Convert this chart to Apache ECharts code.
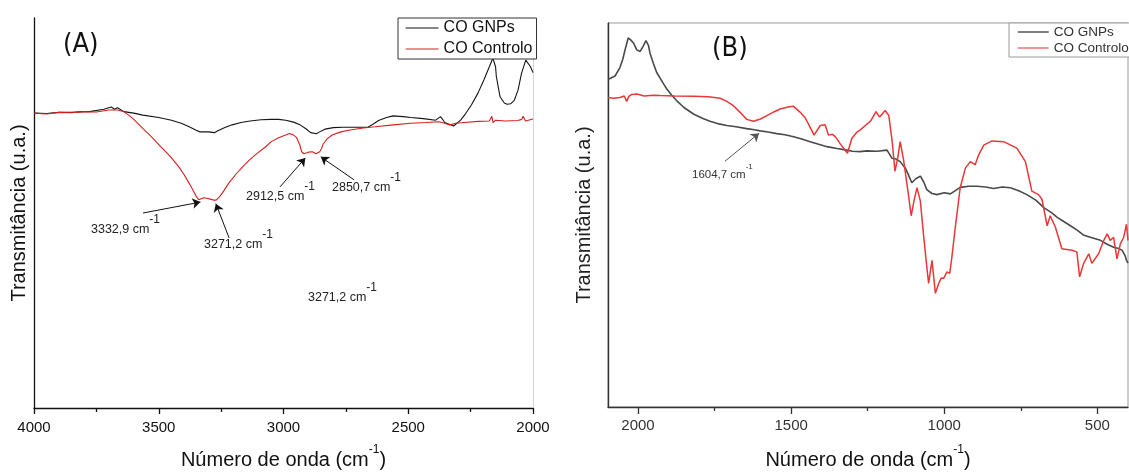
<!DOCTYPE html>
<html>
<head>
<meta charset="utf-8">
<script src="https://cdn.jsdelivr.net/npm/echarts@6/dist/echarts.min.js"></script>
<style>
  html, body { margin: 0; padding: 0; background: #fff; }
  #chart { width: 1129px; height: 475px; }
</style>
</head>
<body>
<div id="chart"></div>
<script>
// ---- Panel A: 4000-2000 cm-1 ----
const gnpWnA = [4000, 3950, 3900, 3850, 3800, 3778, 3720, 3690, 3678, 3665, 3640, 3600, 3564, 3500, 3449, 3410, 3378, 3350, 3335, 3300, 3277, 3263, 3235, 3206, 3170, 3134, 3090, 3049, 3020, 2991, 2960, 2934, 2910, 2891, 2869, 2855, 2834, 2800, 2762, 2700, 2662, 2640, 2619, 2590, 2562, 2520, 2490, 2440, 2390, 2371, 2360, 2354, 2318, 2290, 2270, 2247, 2220, 2197, 2175, 2161, 2150, 2147, 2132, 2115, 2104, 2090, 2075, 2060, 2046, 2029, 2010, 2000];
const gnpA = [75.6, 75.5, 75.8, 75.8, 76.0, 76.0, 76.6, 77.2, 76.6, 77.0, 76.0, 75.6, 75.1, 74.5, 73.8, 73.0, 72.1, 71.2, 70.8, 70.8, 70.6, 71.1, 71.9, 72.6, 73.2, 73.6, 73.9, 74.0, 74.0, 73.8, 73.3, 72.6, 71.6, 70.6, 70.3, 70.8, 71.5, 71.9, 72.0, 72.0, 72.0, 72.8, 73.7, 74.4, 74.9, 74.7, 74.5, 74.2, 73.8, 74.7, 73.8, 73.2, 72.3, 73.8, 75.5, 77.7, 80.8, 84.1, 87.5, 89.7, 87.5, 85.0, 79.8, 78.2, 77.9, 78.0, 78.9, 81.5, 85.8, 89.2, 87.5, 86.0];

const ctrlWnA = [4000, 3950, 3900, 3850, 3800, 3750, 3700, 3664, 3640, 3621, 3600, 3564, 3530, 3492, 3455, 3420, 3400, 3378, 3360, 3349, 3340, 3332, 3320, 3306, 3290, 3280, 3270, 3256, 3240, 3220, 3190, 3163, 3135, 3106, 3075, 3049, 3020, 2991, 2977, 2962, 2948, 2935, 2927, 2918, 2912, 2900, 2884, 2870, 2855, 2848, 2841, 2825, 2805, 2770, 2733, 2680, 2633, 2560, 2490, 2430, 2376, 2355, 2333, 2310, 2275, 2220, 2175, 2165, 2160, 2150, 2110, 2061, 2045, 2040, 2030, 2000];
const ctrlA = [75.6, 75.4, 75.8, 75.7, 76.0, 75.9, 76.4, 76.4, 76.0, 75.1, 74.0, 71.7, 69.6, 67.0, 64.6, 61.9, 60.0, 57.6, 55.5, 54.2, 53.4, 53.1, 53.9, 53.8, 53.5, 53.3, 53.3, 54.2, 55.6, 57.6, 60.0, 61.9, 63.7, 65.3, 66.8, 68.3, 69.3, 70.0, 70.4, 70.1, 69.4, 67.5, 65.7, 65.2, 64.9, 65.6, 65.7, 65.2, 65.7, 66.5, 67.7, 69.0, 70.0, 70.8, 71.3, 71.8, 72.1, 72.6, 73.0, 73.2, 73.4, 73.0, 72.6, 73.0, 73.2, 73.5, 73.6, 74.8, 73.2, 73.8, 73.6, 73.7, 74.0, 74.8, 73.6, 74.1];

// ---- Panel B: 2100-400 cm-1 ----
const gnpWnB = [2098, 2075, 2059, 2050, 2042, 2032, 2024, 2015, 2004, 1993, 1983, 1974, 1966, 1961, 1950, 1939, 1920, 1906, 1890, 1874, 1850, 1819, 1790, 1765, 1740, 1710, 1680, 1645, 1620, 1601, 1575, 1547, 1520, 1492, 1465, 1438, 1410, 1383, 1350, 1318, 1300, 1275, 1253, 1220, 1187, 1171, 1158, 1144, 1127, 1116, 1106, 1092, 1078, 1067, 1057, 1040, 1024, 1000, 980, 965, 948, 920, 893, 865, 839, 810, 784, 757, 730, 700, 675, 650, 631, 610, 588, 565, 544, 515, 490, 468, 447, 430, 419, 410, 405, 400];
const gnpB = [85.3, 86.2, 88.4, 90.5, 93.1, 96.1, 95.6, 94.8, 93.0, 92.6, 94.0, 95.4, 94.2, 92.2, 89.5, 87.1, 84.6, 82.8, 81.2, 79.8, 78.0, 76.3, 75.2, 74.4, 73.8, 73.3, 73.0, 72.5, 72.2, 71.9, 71.6, 71.2, 70.9, 70.4, 69.8, 69.1, 68.4, 67.8, 67.3, 66.9, 66.6, 66.5, 66.7, 66.6, 66.9, 64.8, 64.6, 63.9, 62.2, 60.3, 58.4, 59.5, 60.1, 58.6, 56.6, 55.6, 55.3, 55.8, 55.5, 56.3, 57.2, 57.5, 57.5, 57.3, 56.9, 57.3, 57.1, 56.3, 55.3, 53.8, 51.9, 50.6, 49.4, 48.3, 47.2, 46.0, 44.7, 44.0, 43.4, 42.4, 41.6, 41.3, 40.8, 39.5, 38.2, 37.5];

const ctrlWnB = [2098, 2080, 2059, 2045, 2037, 2030, 2020, 2004, 1980, 1950, 1928, 1880, 1819, 1770, 1732, 1710, 1689, 1665, 1645, 1623, 1600, 1579, 1555, 1536, 1510, 1492, 1471, 1455, 1444, 1425, 1405, 1389, 1378, 1365, 1356, 1340, 1325, 1316, 1302, 1285, 1275, 1258, 1240, 1223, 1211, 1193, 1181, 1170, 1161, 1152, 1144, 1133, 1117, 1108, 1098, 1089, 1078, 1068, 1057, 1051, 1045, 1040, 1029, 1018, 1010, 1002, 991, 982, 975, 964, 948, 931, 915, 899, 888, 871, 844, 806, 763, 735, 714, 692, 681, 664, 654, 637, 616, 583, 567, 558, 545, 528, 518, 496, 479, 468, 458, 447, 436, 425, 414, 405, 400];
const ctrlB = [80.6, 80.4, 80.6, 81.0, 79.6, 80.9, 81.4, 81.5, 81.0, 81.2, 81.1, 81.0, 80.9, 80.8, 80.4, 79.6, 78.5, 76.6, 74.9, 74.4, 75.0, 75.9, 76.9, 77.6, 78.1, 78.3, 76.8, 75.4, 73.8, 70.8, 73.3, 73.5, 70.8, 71.0, 70.4, 68.6, 67.0, 66.1, 69.9, 71.6, 72.1, 73.3, 74.5, 76.9, 75.5, 77.2, 75.9, 69.1, 61.4, 64.8, 69.1, 64.4, 55.3, 49.8, 54.0, 57.1, 53.6, 45.1, 36.5, 32.2, 35.5, 38.2, 29.6, 32.2, 33.6, 33.5, 35.2, 34.8, 39.1, 46.8, 57.1, 62.2, 63.9, 63.1, 65.6, 68.2, 69.3, 69.1, 67.4, 63.9, 56.2, 55.3, 54.1, 47.2, 49.8, 46.8, 41.2, 40.8, 40.4, 33.9, 37.4, 39.9, 37.4, 39.9, 43.4, 45.1, 43.4, 44.2, 38.6, 42.5, 44.2, 47.6, 43.4];

// Tick labels
const ticksA = [4000, 3500, 3000, 2500, 2000];
const majorTicksB = [2000, 1500, 1000, 500];
const minorTicksB = [1750, 1250, 750];

// Peak annotations: [wavenumber, value at arrow tip, arrow tail wn, arrow tail value]
const peaksA = [
  [3332.9, 52.8, 3563, 50.0],
  [3271.2, 52.4, 3218, 43.6],
  [2912.5, 64.1, 3014, 56.7],
  [2850.7, 64.4, 2717, 58.5]
];
const peaksB = [
  [1604.7, 71.3, 1716, 64.0]
];

const zip = (xs, ys) => xs.map((x, i) => [x, ys[i]]);
const SANS = 'Liberation Sans, Arial, sans-serif';
const NARROW = 'Liberation Sans Narrow, DejaVu Sans Condensed, Liberation Sans, sans-serif';
const plain = v => String(v);

function arrows(list) {
  return list.map(p => [
    { coord: [p[2], p[3]] },
    { coord: [p[0], p[1]] }
  ]);
}

function wnLabel(text, left, top, size, supSize, lh, supLh, color) {
  return {
    type: 'text', left: left, top: top, silent: true,
    style: {
      text: '{t|' + text + '}{s|-1}',
      fill: color,
      rich: {
        t: { fontSize: size, fontFamily: SANS, lineHeight: lh, verticalAlign: 'bottom', color: color },
        s: { fontSize: supSize, fontFamily: SANS, lineHeight: supLh, verticalAlign: 'top', color: color }
      }
    }
  };
}

const xName = {
  name: '{t|Número de onda (cm}{s|-1}{t|)}',
  nameLocation: 'middle',
  nameTextStyle: {
    rich: {
      t: { fontSize: 20, fontFamily: SANS, color: '#111', lineHeight: 26, verticalAlign: 'bottom' },
      s: { fontSize: 12, fontFamily: SANS, color: '#111', lineHeight: 16, verticalAlign: 'top' }
    }
  }
};

// legend entries draw only the line sample, no marker
const hiddenMarker = { color: 'rgba(0,0,0,0)', borderWidth: 0, opacity: 0 };

const chart = echarts.init(document.getElementById('chart'), null, { renderer: 'canvas' });

chart.setOption({
  animation: false,
  backgroundColor: '#fff',
  grid: [
    { left: 34, top: 18, width: 499, height: 390 },
    { left: 608, top: 23, width: 520, height: 389, show: true, borderColor: '#9a9a9a', borderWidth: 1 }
  ],
  xAxis: [
    Object.assign({
      type: 'value', gridIndex: 0, min: 2000, max: 4000, interval: 500, inverse: true, position: 'bottom',
      nameGap: 36,
      axisLine: { show: true, onZero: false, lineStyle: { color: '#111', width: 1.3 } },
      axisTick: { show: true, length: 6, lineStyle: { color: '#111', width: 1.3 } },
      minorTick: { show: true, splitNumber: 2, length: 4, lineStyle: { color: '#111', width: 1.3 } },
      axisLabel: { fontSize: 15, fontFamily: SANS, color: '#111', margin: 12, customValues: ticksA, formatter: plain },
      splitLine: { show: false }
    }, xName),
    Object.assign({
      type: 'value', gridIndex: 1, min: 400, max: 2098, inverse: true, position: 'bottom',
      nameGap: 37,
      axisLine: { show: true, onZero: false, lineStyle: { color: '#333', width: 1.4 } },
      axisTick: { show: true, length: 7, customValues: majorTicksB, lineStyle: { color: '#333', width: 1.3 } },
      axisLabel: { fontSize: 15, fontFamily: SANS, color: '#333', margin: 11, customValues: majorTicksB, formatter: plain },
      splitLine: { show: false }
    }, xName),
    {
      type: 'value', gridIndex: 1, min: 400, max: 2098, inverse: true, position: 'bottom',
      axisLine: { show: false },
      axisTick: { show: true, length: 4, customValues: minorTicksB, lineStyle: { color: '#333', width: 1.3 } },
      axisLabel: { show: false },
      splitLine: { show: false }
    }
  ],
  yAxis: [
    {
      type: 'value', gridIndex: 0, min: 0, max: 100, position: 'left',
      name: 'Transmitância (u.a.)', nameLocation: 'middle', nameGap: 4,
      nameTextStyle: { fontSize: 20, fontFamily: SANS, color: '#111', lineHeight: 22 },
      axisLine: { show: true, onZero: false, lineStyle: { color: '#111', width: 1.3 } },
      axisTick: { show: false }, axisLabel: { show: false }, splitLine: { show: false }
    },
    {
      type: 'value', gridIndex: 0, min: 0, max: 100, position: 'right',
      axisLine: { show: true, onZero: false, lineStyle: { color: '#d4d4d4', width: 1 } },
      axisTick: { show: false }, axisLabel: { show: false }, splitLine: { show: false }
    },
    {
      type: 'value', gridIndex: 1, min: 0, max: 100, position: 'left',
      name: 'Transmitância (u.a.)', nameLocation: 'middle', nameGap: 13,
      nameTextStyle: { fontSize: 20, fontFamily: SANS, color: '#222', lineHeight: 22 },
      axisLine: { show: true, onZero: false, lineStyle: { color: '#333', width: 1.4 } },
      axisTick: { show: false }, axisLabel: { show: false }, splitLine: { show: false }
    }
  ],
  legend: [
    {
      orient: 'vertical', left: 398, top: 18, padding: [2, 4, 2, 7],
      itemWidth: 33, itemHeight: 16, itemGap: 5, selectedMode: false,
      backgroundColor: '#fff', borderColor: '#333', borderWidth: 1,
      textStyle: { fontSize: 16, fontFamily: SANS, color: '#111', lineHeight: 16 },
      data: [
        { name: 'CO GNPs', itemStyle: hiddenMarker, lineStyle: { color: '#151515', width: 1.2 } },
        { name: 'CO Controlo', itemStyle: hiddenMarker, lineStyle: { color: '#d81e1e', width: 1.2 } }
      ]
    },
    {
      orient: 'vertical', left: 1009, top: 23, padding: [2, 2, 2, 8],
      itemWidth: 31, itemHeight: 14, itemGap: 2, selectedMode: false,
      backgroundColor: '#fff', borderColor: '#9a9a9a', borderWidth: 1,
      textStyle: { fontSize: 13.5, fontFamily: SANS, color: '#333', lineHeight: 14 },
      data: [
        { name: 'CO GNPs', itemStyle: hiddenMarker, lineStyle: { color: '#4a4a4a', width: 1.4 } },
        { name: 'CO Controlo', itemStyle: hiddenMarker, lineStyle: { color: '#ec6b6b', width: 1.4 } }
      ]
    }
  ],
  series: [
    {
      name: 'CO GNPs', type: 'line', xAxisIndex: 0, yAxisIndex: 0,
      data: zip(gnpWnA, gnpA), symbol: 'none', color: '#151515',
      lineStyle: { color: '#151515', width: 1.1 }
    },
    {
      name: 'CO Controlo', type: 'line', xAxisIndex: 0, yAxisIndex: 0,
      data: zip(ctrlWnA, ctrlA), symbol: 'none', color: '#d81e1e',
      lineStyle: { color: '#d81e1e', width: 1.1 },
      markLine: {
        silent: true, animation: false, symbol: ['none', 'arrow'], symbolSize: 8,
        lineStyle: { color: '#111', width: 1, type: 'solid' },
        label: { show: false },
        emphasis: { disabled: true },
        data: arrows(peaksA)
      }
    },
    {
      name: 'CO GNPs', type: 'line', xAxisIndex: 1, yAxisIndex: 2,
      data: zip(gnpWnB, gnpB), symbol: 'none', color: '#4a4a4a',
      lineStyle: { color: '#4a4a4a', width: 1.6 },
      markLine: {
        silent: true, animation: false, symbol: ['none', 'arrow'], symbolSize: 8,
        lineStyle: { color: '#555', width: 1, type: 'solid' },
        label: { show: false },
        emphasis: { disabled: true },
        data: arrows(peaksB)
      }
    },
    {
      name: 'CO Controlo', type: 'line', xAxisIndex: 1, yAxisIndex: 2,
      data: zip(ctrlWnB, ctrlB), symbol: 'none', color: '#e8383a',
      lineStyle: { color: '#e8383a', width: 1.5 }
    }
  ],
  graphic: [
    { type: 'text', left: 63, top: 31, silent: true,
      style: { text: '(A)', fontSize: 27, fontFamily: NARROW, fill: '#111' } },
    { type: 'text', left: 712, top: 35, silent: true,
      style: { text: '(B)', fontSize: 27, fontFamily: NARROW, fill: '#111' } },
    wnLabel('3332,9 cm', 91, 214, 12.5, 12, 22, 12, '#222'),
    wnLabel('3271,2 cm', 204, 229, 12.5, 12, 22, 12, '#222'),
    wnLabel('2912,5 cm', 246, 181, 12.5, 12, 22, 12, '#222'),
    wnLabel('2850,7 cm', 332, 172, 12.5, 12, 22, 12, '#222'),
    wnLabel('3271,2 cm', 308, 282, 12.5, 12, 22, 12, '#222'),
    wnLabel('1604,7 cm', 692, 163, 11.5, 8, 18, 8, '#333')
  ]
});
</script>
</body>
</html>
